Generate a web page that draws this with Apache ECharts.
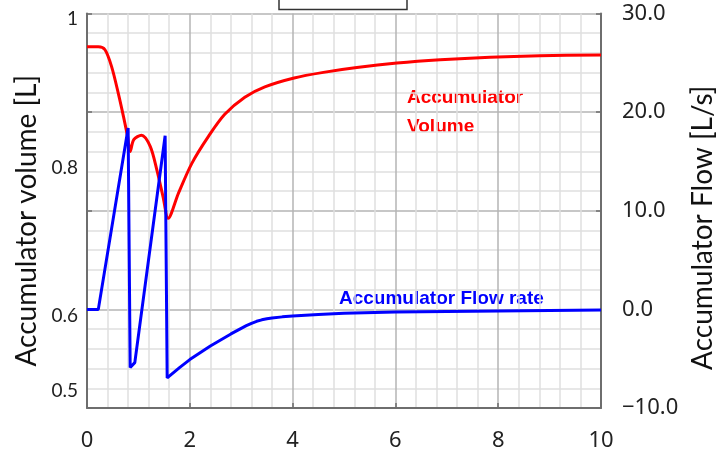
<!DOCTYPE html>
<html>
<head>
<meta charset="utf-8">
<script src="https://cdn.jsdelivr.net/npm/echarts@6/dist/echarts.min.js"></script>
<style>
html,body{margin:0;padding:0;background:#fff;}
#chart{width:723px;height:453px;}
</style>
</head>
<body>
<div id="chart"></div>
<script>
// Time axis (s)
const xTicks = [0, 2, 4, 6, 8, 10];

// Accumulator volume [L] (red, left axis)
const volTime = [0, 0.22, 0.35, 0.48, 0.61, 0.71, 0.79, 0.84, 0.91, 1.06, 1.23, 1.36, 1.48, 1.58, 1.78, 2.04, 2.36, 2.68, 3.07, 3.46, 4.03, 4.60, 5.25, 6.03, 6.87, 7.84, 8.81, 10];
const volume  = [0.963, 0.963, 0.959, 0.936, 0.900, 0.869, 0.842, 0.822, 0.838, 0.844, 0.829, 0.797, 0.761, 0.732, 0.766, 0.806, 0.842, 0.872, 0.895, 0.909, 0.921, 0.9285, 0.935, 0.941, 0.9455, 0.949, 0.951, 0.952];

// Accumulator flow rate [L/s] (blue, right axis)
const flowTime = [0, 0.22, 0.80, 0.84, 0.93, 1.52, 1.56, 1.8, 2.0, 2.2, 2.4, 2.6, 2.8, 3.0, 3.1, 3.2, 3.3, 3.4, 3.5, 3.6, 3.8, 4.0, 4.5, 5, 6, 7, 8, 9, 10];
const flowRate = [0, 0, 18.4, -5.9, -5.4, 17.6, -6.95, -5.9, -5.09, -4.40, -3.71, -3.10, -2.49, -1.92, -1.65, -1.41, -1.21, -1.06, -0.95, -0.87, -0.76, -0.68, -0.53, -0.40, -0.27, -0.21, -0.16, -0.11, -0.07];

// Tick labels
const volTickValues = [0.5, 0.6, 0.8, 1];
const volTickLabels = ['0.5', '0.6', '0.8', '1'];
const flowTicks = [-10, 0, 10, 20, 30];

const volData = volTime.map((t, i) => [t, volume[i]]);
const flowData = flowTime.map((t, i) => [t, flowRate[i]]);

const axisLineStyle = {color: '#6e6e6e', width: 2};
const majorGrid = {show: true, lineStyle: {color: '#b4b4b4', width: 1.5}};
const minorGrid = {show: true, lineStyle: {color: '#dfdfdf', width: 1.5}};

const chart = echarts.init(document.getElementById('chart'));
chart.setOption({
  backgroundColor: '#ffffff',
  animation: false,
  grid: {left: 87, right: 122, top: 13.5, bottom: 45, containLabel: false, outerBoundsMode: 'none'},
  xAxis: {
    type: 'value', min: xTicks[0], max: xTicks[xTicks.length - 1], interval: 2,
    axisLine: {show: true, onZero: false, lineStyle: axisLineStyle},
    axisTick: {show: true, inside: true, length: 5, lineStyle: {color: '#6e6e6e', width: 1.5}},
    axisLabel: {fontSize: 22, margin: 22, color: '#222', fontFamily: 'Noto Sans'},
    splitLine: majorGrid,
    minorTick: {show: false, splitNumber: 5},
    minorSplitLine: minorGrid
  },
  yAxis: [
    {
      type: 'value', position: 'right', min: flowTicks[0], max: flowTicks[flowTicks.length - 1], interval: 10,
      axisLine: {show: true, onZero: false, lineStyle: axisLineStyle},
      axisTick: {show: true, inside: true, length: 5, lineStyle: {color: '#6e6e6e', width: 1.5}},
      axisLabel: {
        fontSize: 22, margin: 21, color: '#222', fontFamily: 'Noto Sans',
        formatter: v => (v < 0 ? '\u2212' : '') + Math.abs(v).toFixed(1)
      },
      splitLine: majorGrid,
      minorTick: {show: false, splitNumber: 5},
      minorSplitLine: minorGrid,
      name: 'Accumulator Flow [L/s]', nameLocation: 'middle', nameRotate: 90, nameGap: 86,
      nameTextStyle: {fontSize: 28, fontFamily: 'Lato', color: '#111', padding: [0, 34, 0, 0]}
    },
    {
      type: 'value', position: 'left', min: 0.4766, max: 1.0078,
      axisLine: {show: false, onZero: false},
      axisTick: {show: false},
      splitLine: {show: false},
      axisLabel: {
        customValues: volTickValues,
        formatter: v => { const i = volTickValues.findIndex(x => Math.abs(x - v) < 1e-6); return i >= 0 ? volTickLabels[i] : ''; },
        fontSize: 19, margin: 9, color: '#222', fontFamily: 'Lato'
      },
      name: 'Accumulator volume [L]', nameLocation: 'middle', nameRotate: 90, nameGap: 42,
      nameTextStyle: {fontSize: 28, fontFamily: 'Lato', color: '#111', padding: [0, 20, 0, 0]}
    },
    {
      type: 'value', position: 'left', min: flowTicks[0], max: flowTicks[flowTicks.length - 1], interval: 10,
      axisLine: {show: true, onZero: false, lineStyle: axisLineStyle},
      axisTick: {show: true, inside: true, length: 5, lineStyle: {color: '#6e6e6e', width: 1.5}},
      axisLabel: {show: false},
      splitLine: {show: false}
    }
  ],
  series: [
    {
      type: 'line', name: 'Accumulator Volume', yAxisIndex: 1, data: volData,
      showSymbol: false, symbol: 'none', smooth: 0.3,
      lineStyle: {color: '#ff0000', width: 3}
    },
    {
      type: 'line', name: 'Accumulator Flow rate', yAxisIndex: 0, data: flowData,
      showSymbol: false, symbol: 'none', smooth: false,
      lineStyle: {color: '#0000ff', width: 3}
    }
  ],
  graphic: [
    {type: 'text', left: 407, top: 88, style: {text: 'Accumulator', fill: '#ff0000', font: 'bold 19px "Liberation Sans"'}},
    {type: 'text', left: 407, top: 117, style: {text: 'Volume', fill: '#ff0000', font: 'bold 19px "Liberation Sans"'}},
    {type: 'text', left: 339, top: 289, style: {text: 'Accumulator Flow rate', fill: '#0000ff', font: 'bold 19px "Liberation Sans"'}},
    {type: 'polyline', shape: {points: [[279, 0], [279, 9.5], [407, 9.5], [407, 0]]}, style: {stroke: '#333', lineWidth: 1.5, fill: null}}
  ]
});
</script>
</body>
</html>
